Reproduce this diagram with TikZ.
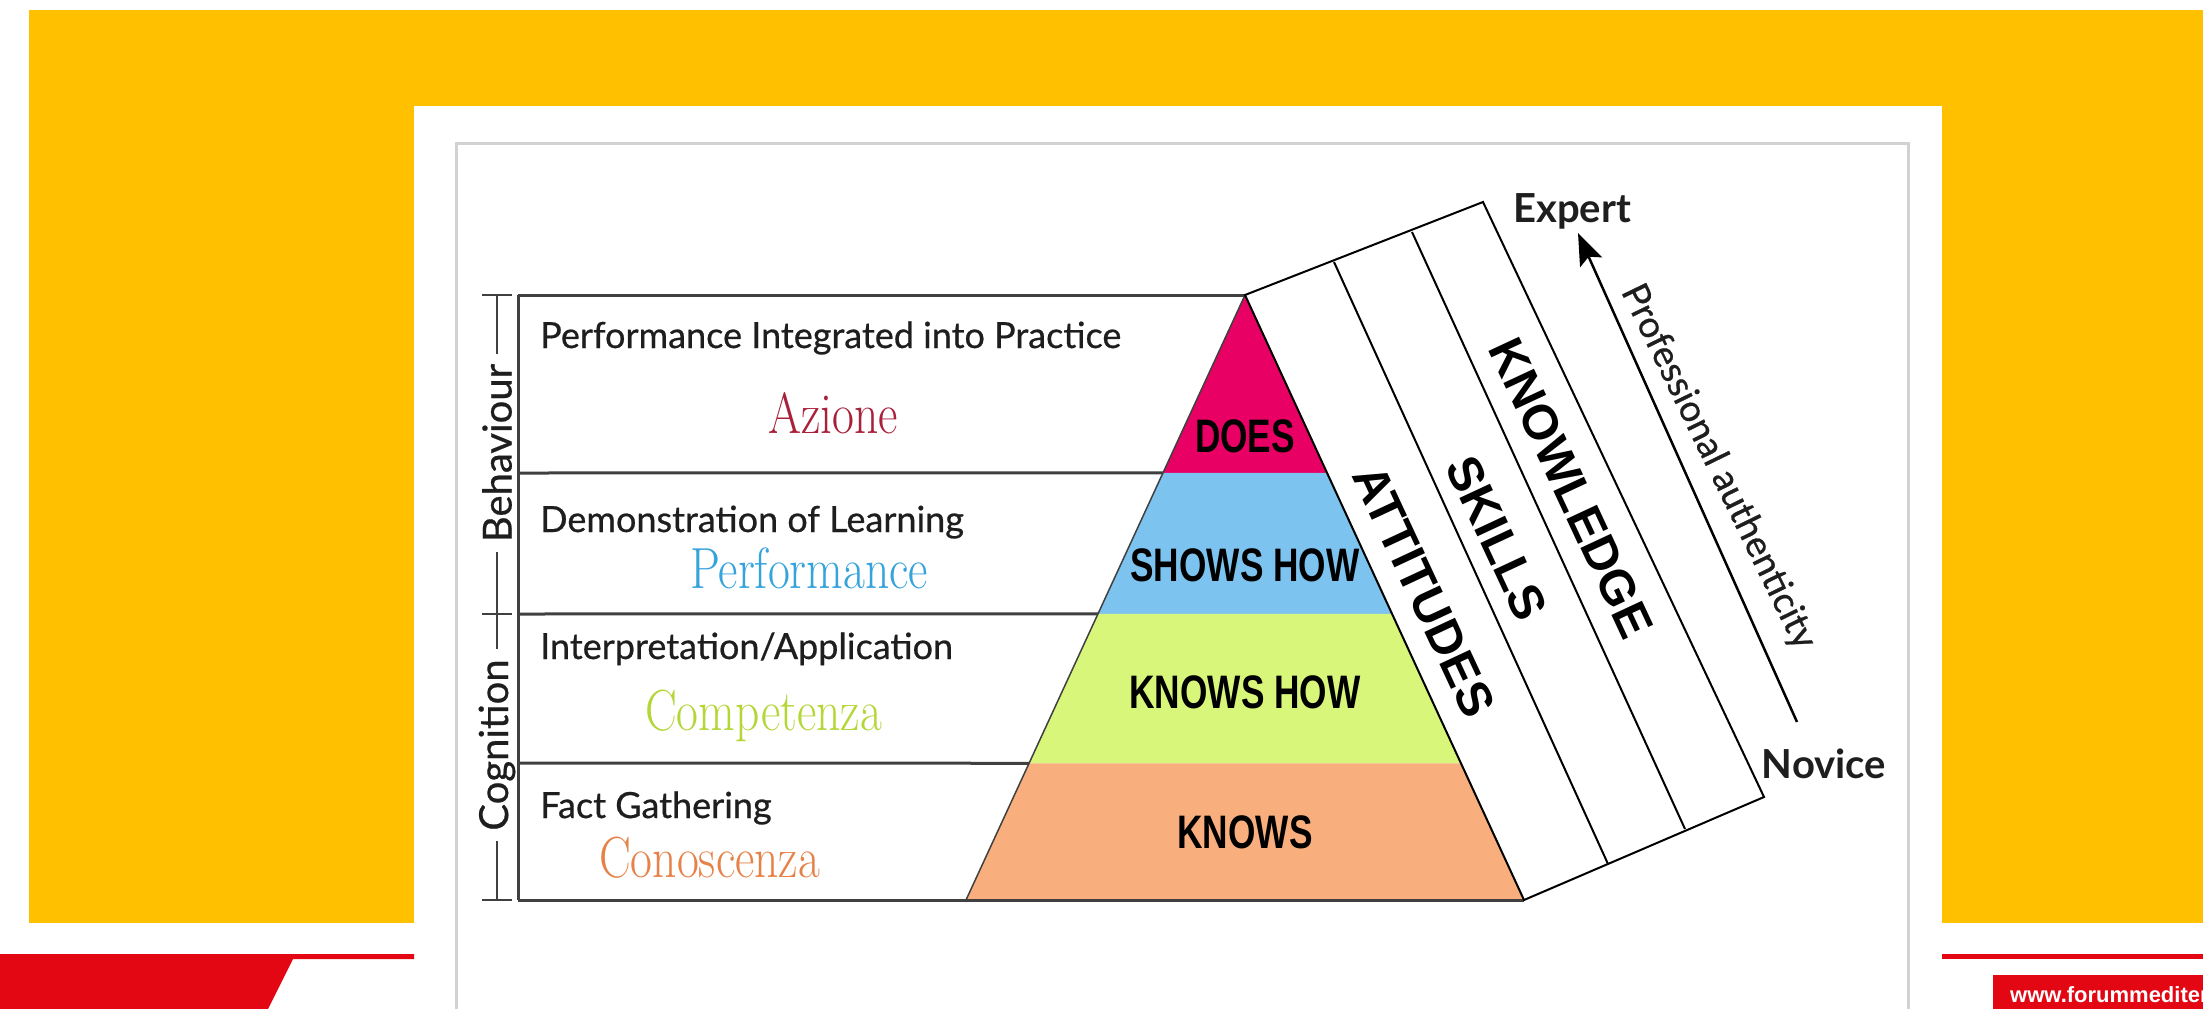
\documentclass[tikz,border=0pt]{standalone}
\usepackage{fontspec}
\usetikzlibrary{arrows.meta,calc}

\newfontfamily\labelfont[FakeBold=0.6]{Lato}
\newfontfamily\endfont{Lato}
\newfontfamily\wordfont{Liberation Sans}
\newfontfamily\tierfont[FakeStretch=0.75]{Liberation Sans}
\newfontfamily\levelfont[FakeStretch=0.82]{Latin Modern Roman}

\definecolor{bgyellow}{HTML}{FFC000}
\definecolor{barred}{HTML}{E30613}
\definecolor{framegray}{HTML}{D2D2D2}
\definecolor{linegray}{HTML}{404040}
\definecolor{labelgray}{HTML}{1E1E1E}
\definecolor{doesfill}{HTML}{E80064}
\definecolor{showsfill}{HTML}{7DC3F0}
\definecolor{knowshowfill}{HTML}{D8F67A}
\definecolor{knowsfill}{HTML}{F9AF7D}
\definecolor{azionecol}{HTML}{A8203A}
\definecolor{perfcol}{HTML}{35A3DC}
\definecolor{compcol}{HTML}{B4D636}
\definecolor{conoscol}{HTML}{E68248}

\begin{document}
\begin{tikzpicture}[x=1pt, y=-1pt,
    rowline/.style={draw=linegray, line width=3pt},
    bandline/.style={draw=black, line width=2pt, line join=miter},
    rowlabel/.style={anchor=base west, inner sep=0pt, text=labelgray, font=\labelfont\fontsize{36}{42}\selectfont},
    levelword/.style={anchor=base west, inner sep=0pt, font=\levelfont\fontsize{58}{64}\selectfont},
    tierword/.style={inner sep=0pt, font=\tierfont\bfseries\fontsize{47}{50}\selectfont},
    bandword/.style={inner sep=0pt, rotate=-65, font=\wordfont\bfseries\fontsize{49}{52}\selectfont},
    sidelabel/.style={rotate=90, fill=white, inner xsep=10pt, inner ysep=2pt, text=labelgray, font=\labelfont\fontsize{40}{44}\selectfont},
    endlabel/.style={anchor=base, inner sep=0pt, text=labelgray, font=\endfont\bfseries\fontsize{40}{44}\selectfont},
    arrow/.style={-{Stealth[length=32pt, width=24pt, inset=6pt]}, line width=2.5pt}
]
\useasboundingbox (0,0) rectangle (2203,1009);

% Background: yellow, white panel, red bars
\fill[bgyellow] (29,10) rectangle (2203,923);
\fill[white] (414,106) rectangle (1942,1009);
\draw[framegray, line width=3pt] (456,1009) -- (456,143) -- (1908,143) -- (1908,1009);
\fill[barred] (0,954) -- (414,954) -- (414,959) -- (293,959) -- (268,1009) -- (0,1009) -- cycle;
\fill[barred] (1942,954) rectangle (2203,959);
\fill[barred] (1993,975) rectangle (2203,1009);
\node[anchor=base west, inner sep=0pt, text=white, font=\wordfont\bfseries\fontsize{22}{24}\selectfont] (url) at (2010,1002) {www.forummediter};

% Pyramid
\coordinate (apex) at (1245,295);
\coordinate (baseL) at (966,900);
\coordinate (baseR) at (1524,900);
\coordinate (tabTL) at (518,295);
\coordinate (tabBL) at (518,900);
\fill[doesfill] (apex) -- ($(apex)!0.294!(baseL)$) -- ($(apex)!0.294!(baseR)$) -- cycle;
\fill[showsfill] ($(apex)!0.294!(baseL)$) -- ($(apex)!0.527!(baseL)$) -- ($(apex)!0.527!(baseR)$) -- ($(apex)!0.294!(baseR)$) -- cycle;
\fill[knowshowfill] ($(apex)!0.527!(baseL)$) -- ($(apex)!0.774!(baseL)$) -- ($(apex)!0.774!(baseR)$) -- ($(apex)!0.527!(baseR)$) -- cycle;
\fill[knowsfill] ($(apex)!0.774!(baseL)$) -- (baseL) -- (baseR) -- ($(apex)!0.774!(baseR)$) -- cycle;
\draw[linegray, line width=1.5pt] (apex) -- (baseL);

% Table rows
\draw[rowline] (tabTL) -- (apex);
\draw[rowline] (518,473) -- ($(apex)!0.294!(baseL)$);
\draw[rowline] (518,614) -- ($(apex)!0.527!(baseL)$);
\draw[rowline] (518,763) -- ($(apex)!0.774!(baseL)$);
\draw[rowline] (tabBL) -- (baseR);
\draw[rowline] (tabTL) -- (tabBL);

% Bracket: Behaviour / Cognition
\draw[linegray, line width=2.5pt] (497,295) -- (497,900);
\draw[linegray, line width=2.5pt] (482,295) -- (512,295);
\draw[linegray, line width=2.5pt] (482,614) -- (512,614);
\draw[linegray, line width=2.5pt] (482,900) -- (512,900);
\node[sidelabel] (behaviour) at (497,453) {Behaviour};
\node[sidelabel] (cognition) at (497,745) {Cognition};

% Row labels
\node[rowlabel] (practice) at (540,348) {Performance Integrated into Practice};
\node[rowlabel] (demo) at (540,532) {Demonstration of Learning};
\node[rowlabel] (interp) at (540,659) {Interpretation/Application};
\node[rowlabel] (facts) at (540,818) {Fact Gathering};
\node[levelword, text=azionecol] (azione) at (768,433) {Azione};
\node[levelword, text=perfcol] (performance) at (690,588) {Performance};
\node[levelword, text=compcol] (competenza) at (645,730) {Competenza};
\node[levelword, text=conoscol] (conoscenza) at (599,877) {Conoscenza};

% Pyramid tiers
\node[tierword] (does) at (1245,436) {DOES};
\node[tierword] (showshow) at (1245,565) {SHOWS HOW};
\node[tierword] (knowshow) at (1245,692) {KNOWS HOW};
\node[tierword] (knows) at (1245,832) {KNOWS};

% Slanted bands
\coordinate (P1) at (1334,262);
\coordinate (P2) at (1412,232);
\coordinate (P3) at (1483,202);
\coordinate (Q1) at (1608,864);
\coordinate (Q2) at (1685,829);
\coordinate (Q3) at (1764,797);
\draw[bandline] (apex) -- (P3) -- (Q3) -- (baseR) -- cycle;
\draw[bandline] (P1) -- (Q1);
\draw[bandline] (P2) -- (Q2);
\node[bandword] (attitudes) at (1424,591) {ATTITUDES};
\node[bandword] (skills) at (1497,538) {SKILLS};
\node[bandword] (knowledge) at (1571,488) {KNOWLEDGE};

% Novice -> Expert
\coordinate (novicept) at (1797,722);
\coordinate (expertpt) at (1578,233);
\draw[arrow] (novicept) -- (expertpt);
\node[endlabel] (expert) at (1572,222) {Expert};
\node[endlabel] (novice) at (1824,778) {Novice};
\node[rotate=-64, inner sep=0pt, text=labelgray, font=\labelfont\fontsize{37}{40}\selectfont] (authentic) at (1718,467) {Professional authenticity};

\end{tikzpicture}
\end{document}
